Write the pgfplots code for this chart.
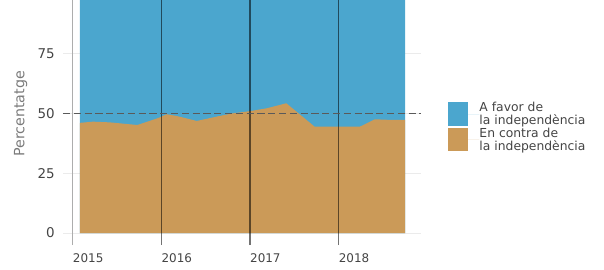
\documentclass[border=0pt]{standalone}
\usepackage{pgfplots}
\usepackage{pgfplotstable}
\pgfplotsset{compat=1.18}
\usepackage{fontspec}
\setmainfont{DejaVu Sans}
\definecolor{favor}{HTML}{4BA6CE}
\definecolor{contra}{HTML}{CB9A58}
\definecolor{vline}{HTML}{5A5A5A}
\definecolor{txt}{HTML}{444444}
\definecolor{lab}{HTML}{7A7A7A}
\pgfplotstableread{
x contra favor
2015.08 46.1 53.9
2015.23 46.6 53.4
2015.42 46.3 53.7
2015.73 45.2 54.8
2015.97 48.2 51.8
2016.06 49.7 50.3
2016.17 49.0 51.0
2016.40 46.9 53.1
2016.66 49.0 51.0
2016.81 50.1 49.9
2017.00 51.0 49.0
2017.19 52.2 47.8
2017.41 54.3 45.7
2017.73 44.5 55.5
2018.24 44.5 55.5
2018.41 47.6 52.4
2018.61 47.3 52.7
2018.75 47.3 52.7
}\data
\begin{document}
\begin{tikzpicture}
\path[use as bounding box] (-63bp,-270bp) rectangle (541bp,0bp);
\begin{axis}[at={(0,0)}, anchor=north west, scale only axis,
  width=358bp, height=245bp,
  xmin=2014.89, xmax=2018.93, ymin=-5, ymax=97.5,
  axis line style={draw=none}, major tick length=0pt,
  xtick={2015,2016,2017,2018}, ytick={0,25,50,75},
  ymajorgrids, grid style={color=black!8, line width=0.8bp},
  /pgf/number format/assume math mode=true,
  /pgf/number format/1000 sep={},
  x tick label style={anchor=north west, inner sep=0pt, yshift=-8.3bp,
    font=\fontsize{12}{14}\selectfont, text=txt},
  y tick label style={anchor=east, inner sep=0pt, xshift=-8bp,
    font=\fontsize{13.5}{16}\selectfont, text=txt},
  ylabel={Percentatge},
  ylabel style={at={(axis description cs:-0.1180,0.535)}, anchor=center,
    font=\fontsize{14.3}{17}\selectfont, text=lab},
  legend style={at={(1.0754,0.585)}, anchor=north west, draw=none, fill=none,
    row sep=1.5bp, column sep=0pt, inner sep=0pt,
    nodes={inner sep=0pt, align=left, anchor=west, text=txt,
      font=\fontsize{12.4}{13.5}\selectfont}},
  legend cell align=left,
  legend image code/.code={\fill[#1,draw=none] (0bp,-11.6bp) rectangle (20bp,11.6bp); \path (20bp,0) -- (31.3bp,0);},
]
\addplot[fill=favor, draw=none] table[x=x, y expr=\thisrow{contra}+\thisrow{favor}]{\data} \closedcycle;
\addlegendentry{A favor de\\la independència}
\addplot[fill=contra, draw=none] table[x=x, y=contra]{\data} \closedcycle;
\addlegendentry{En contra de\\la independència}
\addplot[color=black!32, line width=1.4bp, forget plot] coordinates {(2015,-5) (2015,97.5)};
\addplot[color=black, opacity=0.55, line width=1.3bp, forget plot] coordinates {(2016,-5) (2016,97.5)};
\addplot[color=black, opacity=0.55, line width=1.3bp, forget plot] coordinates {(2017,-5) (2017,97.5)};
\addplot[color=black, opacity=0.55, line width=1.3bp, forget plot] coordinates {(2018,-5) (2018,97.5)};
\addplot[color=vline, line width=1.5bp, dash pattern=on 7.2bp off 3.6bp, forget plot] coordinates {(2014.89,50) (2018.93,50)};
\end{axis}
\end{tikzpicture}
\end{document}
